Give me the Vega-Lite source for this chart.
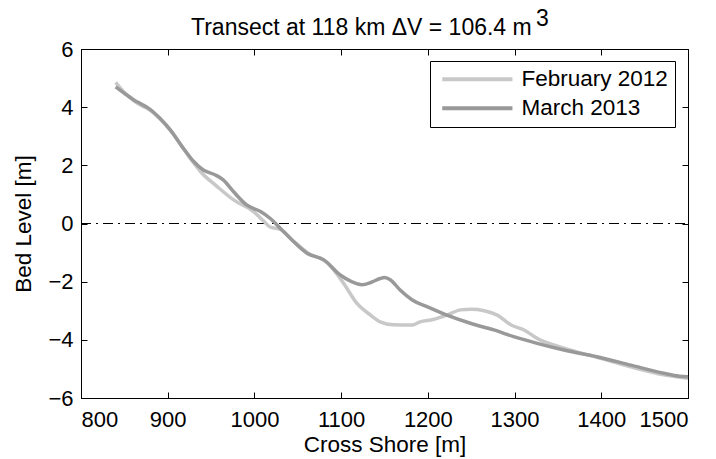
{
  "$schema": "https://vega.github.io/schema/vega-lite/v6.json",
  "width": 607,
  "height": 349,
  "autosize": "none",
  "padding": {"left": 81, "top": 49, "right": 28, "bottom": 61},
  "background": "white",
  "config": {
    "font": "Liberation Sans",
    "view": {"stroke": "black", "strokeWidth": 1},
    "axis": {"grid": false, "domainColor": "black", "tickColor": "black", "labelColor": "black", "titleColor": "black", "labelFontSize": 22, "titleFontSize": 22.5, "titleFontWeight": "normal", "tickSize": -6, "labelFont": "Liberation Sans", "titleFont": "Liberation Sans"}
  },
  "title": {"text": ["\u200b\u00a0\u00a0\u00a0\u00a0\u00a0\u00a0\u00a0\u00a0\u00a0\u00a0\u00a0\u00a0\u00a0\u00a0\u00a0\u00a0\u00a0\u00a0\u00a0\u00a0\u00a0\u00a0\u00a0\u00a0\u00a0\u00a0\u00a0\u00a0\u00a0\u00a0\u00a0\u00a0\u00a0\u00a0\u00a0\u00a0\u00a0\u00a0\u00a0\u00a0\u00a0\u00a0\u00a0\u00a0\u00a0\u00a0\u00a0\u00a0\u00a0\u00a0\u00a0\u00a0\u00a0\u00a03", "Transect at 118 km ΔV = 106.4 m"], "fontSize": 23, "fontWeight": "normal", "font": "Liberation Sans", "color": "black", "anchor": "start", "frame": "group", "align": "left", "dx": 110, "lineHeight": 9.5, "baseline": "top", "offset": -2},
  "datasets": {
    "profiles": [
      {"series": "February 2012", "x": 840, "y": 4.85},
      {"series": "February 2012", "x": 850, "y": 4.5},
      {"series": "February 2012", "x": 861, "y": 4.22},
      {"series": "February 2012", "x": 870, "y": 4.05},
      {"series": "February 2012", "x": 878, "y": 3.93},
      {"series": "February 2012", "x": 891, "y": 3.6},
      {"series": "February 2012", "x": 903, "y": 3.2},
      {"series": "February 2012", "x": 918, "y": 2.58},
      {"series": "February 2012", "x": 930, "y": 2.08},
      {"series": "February 2012", "x": 938, "y": 1.78},
      {"series": "February 2012", "x": 957, "y": 1.27},
      {"series": "February 2012", "x": 976, "y": 0.81},
      {"series": "February 2012", "x": 999, "y": 0.41},
      {"series": "February 2012", "x": 1010, "y": 0.1},
      {"series": "February 2012", "x": 1018, "y": -0.12},
      {"series": "February 2012", "x": 1030, "y": -0.2},
      {"series": "February 2012", "x": 1045, "y": -0.6},
      {"series": "February 2012", "x": 1061, "y": -1.0},
      {"series": "February 2012", "x": 1084, "y": -1.35},
      {"series": "February 2012", "x": 1103, "y": -2.06},
      {"series": "February 2012", "x": 1118, "y": -2.74},
      {"series": "February 2012", "x": 1134, "y": -3.15},
      {"series": "February 2012", "x": 1145, "y": -3.38},
      {"series": "February 2012", "x": 1160, "y": -3.48},
      {"series": "February 2012", "x": 1182, "y": -3.49},
      {"series": "February 2012", "x": 1191, "y": -3.38},
      {"series": "February 2012", "x": 1206, "y": -3.3},
      {"series": "February 2012", "x": 1222, "y": -3.15},
      {"series": "February 2012", "x": 1238, "y": -2.97},
      {"series": "February 2012", "x": 1250, "y": -2.95},
      {"series": "February 2012", "x": 1265, "y": -3.0},
      {"series": "February 2012", "x": 1280, "y": -3.15},
      {"series": "February 2012", "x": 1296, "y": -3.49},
      {"series": "February 2012", "x": 1311, "y": -3.66},
      {"series": "February 2012", "x": 1326, "y": -3.95},
      {"series": "February 2012", "x": 1357, "y": -4.29},
      {"series": "February 2012", "x": 1395, "y": -4.6},
      {"series": "February 2012", "x": 1434, "y": -4.93},
      {"series": "February 2012", "x": 1472, "y": -5.2},
      {"series": "February 2012", "x": 1500, "y": -5.32},
      {"series": "March 2013", "x": 840, "y": 4.7},
      {"series": "March 2013", "x": 850, "y": 4.48},
      {"series": "March 2013", "x": 861, "y": 4.25},
      {"series": "March 2013", "x": 870, "y": 4.1},
      {"series": "March 2013", "x": 878, "y": 3.96},
      {"series": "March 2013", "x": 891, "y": 3.62},
      {"series": "March 2013", "x": 903, "y": 3.22},
      {"series": "March 2013", "x": 918, "y": 2.59},
      {"series": "March 2013", "x": 930, "y": 2.13},
      {"series": "March 2013", "x": 941, "y": 1.84},
      {"series": "March 2013", "x": 955, "y": 1.67},
      {"series": "March 2013", "x": 964, "y": 1.5},
      {"series": "March 2013", "x": 976, "y": 1.09},
      {"series": "March 2013", "x": 991, "y": 0.64},
      {"series": "March 2013", "x": 1007, "y": 0.41},
      {"series": "March 2013", "x": 1018, "y": 0.18},
      {"series": "March 2013", "x": 1030, "y": -0.17},
      {"series": "March 2013", "x": 1045, "y": -0.62},
      {"series": "March 2013", "x": 1061, "y": -1.03},
      {"series": "March 2013", "x": 1080, "y": -1.25},
      {"series": "March 2013", "x": 1099, "y": -1.77},
      {"series": "March 2013", "x": 1112, "y": -2.0},
      {"series": "March 2013", "x": 1124, "y": -2.11},
      {"series": "March 2013", "x": 1135, "y": -2.02},
      {"series": "March 2013", "x": 1145, "y": -1.89},
      {"series": "March 2013", "x": 1150, "y": -1.86},
      {"series": "March 2013", "x": 1157, "y": -1.94},
      {"series": "March 2013", "x": 1168, "y": -2.29},
      {"series": "March 2013", "x": 1182, "y": -2.63},
      {"series": "March 2013", "x": 1199, "y": -2.86},
      {"series": "March 2013", "x": 1222, "y": -3.15},
      {"series": "March 2013", "x": 1249, "y": -3.43},
      {"series": "March 2013", "x": 1276, "y": -3.66},
      {"series": "March 2013", "x": 1299, "y": -3.89},
      {"series": "March 2013", "x": 1326, "y": -4.12},
      {"series": "March 2013", "x": 1357, "y": -4.35},
      {"series": "March 2013", "x": 1395, "y": -4.58},
      {"series": "March 2013", "x": 1434, "y": -4.87},
      {"series": "March 2013", "x": 1472, "y": -5.15},
      {"series": "March 2013", "x": 1490, "y": -5.25},
      {"series": "March 2013", "x": 1500, "y": -5.27}
    ],
    "zero": [{"x": 800, "x2": 1500, "y": 0}]
  },
  "layer": [
    {
      "data": {"name": "zero"},
      "mark": {"type": "rule", "color": "black", "strokeWidth": 1, "strokeDash": [10, 5, 2, 5]},
      "encoding": {
        "x": {"field": "x", "type": "quantitative", "scale": {"domain": [800, 1500], "nice": false, "zero": false}, "axis": {"orient": "top", "labels": false, "title": null, "values": [800, 900, 1000, 1100, 1200, 1300, 1400, 1500]}},
        "x2": {"field": "x2"},
        "y": {"field": "y", "type": "quantitative", "scale": {"domain": [-6, 6], "nice": false}, "axis": {"orient": "right", "labels": false, "title": null, "values": [-6, -4, -2, 0, 2, 4, 6]}}
      }
    },
    {
      "data": {"name": "profiles"},
      "mark": {"type": "line", "strokeWidth": 3.5, "interpolate": "monotone"},
      "encoding": {
        "x": {"field": "x", "type": "quantitative", "scale": {"domain": [800, 1500], "nice": false, "zero": false}, "axis": {"orient": "bottom", "title": "Cross Shore [m]", "format": "d", "values": [800, 900, 1000, 1100, 1200, 1300, 1400, 1500], "labelPadding": 17, "titlePadding": 3}},
        "y": {"field": "y", "type": "quantitative", "scale": {"domain": [-6, 6], "nice": false}, "axis": {"orient": "left", "title": "Bed Level [m]", "values": [-6, -4, -2, 0, 2, 4, 6], "labelPadding": 14, "titlePadding": 12}},
        "color": {"field": "series", "type": "nominal", "scale": {"domain": ["February 2012", "March 2013"], "range": ["#c8c8c8", "#999999"]},
          "legend": {"title": null, "orient": "none", "legendX": 349, "legendY": 12, "symbolType": "M-1,0H6.8", "symbolSize": 324, "symbolStrokeWidth": 4, "symbolOffset": 3, "labelFontSize": 22.5, "labelColor": "black", "labelFont": "Liberation Sans", "strokeColor": "black", "padding": 7, "rowPadding": 6, "labelOffset": 59, "fillColor": "white"}}
      }
    }
  ],
  "resolve": {"scale": {"x": "independent", "y": "independent"}, "axis": {"x": "independent", "y": "independent"}}
}
